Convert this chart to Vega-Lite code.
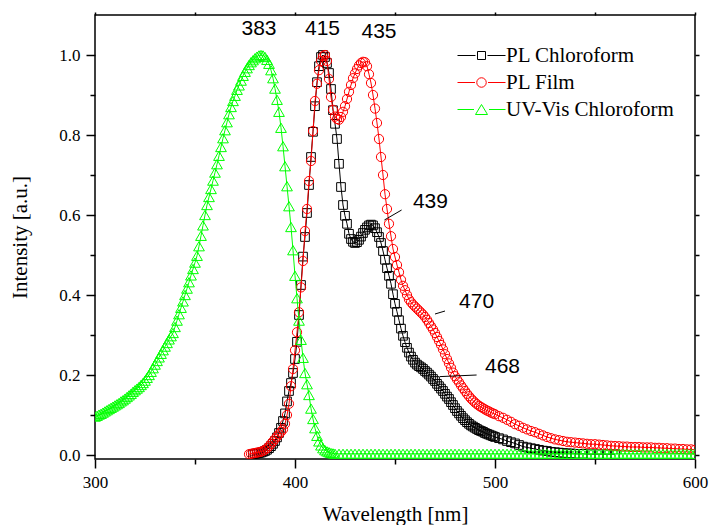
{
"$schema": "https://vega.github.io/schema/vega-lite/v6.json",
"width": 600, "height": 444,
"autosize": "none",
"padding": {"left": 95, "top": 15, "right": 14, "bottom": 66},
"config": {
  "view": {"stroke": "black", "strokeWidth": 1.5},
  "font": "Liberation Serif",
  "axis": {"domain": false, "grid": false, "labelFlush": false, "labelOverlap": false, "labelFont": "Liberation Serif", "labelFontSize": 17, "labelColor": "black", "titleFont": "Liberation Serif", "titleFontSize": 21, "titleFontWeight": "normal", "titleColor": "black", "tickColor": "black", "tickWidth": 1.5}
},
"datasets": {
"pc": [{"x":379,"y":0.002},{"x":380,"y":0.003},{"x":381,"y":0.004},{"x":382,"y":0.005},{"x":383,"y":0.006},{"x":384,"y":0.008},{"x":385,"y":0.010},{"x":386,"y":0.013},{"x":387,"y":0.017},{"x":388,"y":0.022},{"x":389,"y":0.028},{"x":390,"y":0.035},{"x":391,"y":0.044},{"x":392,"y":0.055},{"x":393,"y":0.068},{"x":394,"y":0.085},{"x":395,"y":0.104},{"x":396,"y":0.134},{"x":397,"y":0.160},{"x":398,"y":0.180},{"x":399,"y":0.205},{"x":400,"y":0.240},{"x":401,"y":0.283},{"x":402,"y":0.350},{"x":403,"y":0.425},{"x":404,"y":0.496},{"x":405,"y":0.545},{"x":406,"y":0.605},{"x":407,"y":0.675},{"x":408,"y":0.745},{"x":409,"y":0.808},{"x":410,"y":0.872},{"x":411,"y":0.932},{"x":412,"y":0.972},{"x":413,"y":0.995},{"x":414,"y":1.000},{"x":415,"y":0.995},{"x":416,"y":0.980},{"x":417,"y":0.955},{"x":418,"y":0.915},{"x":419,"y":0.862},{"x":420,"y":0.828},{"x":421,"y":0.790},{"x":422,"y":0.728},{"x":423,"y":0.670},{"x":424,"y":0.625},{"x":425,"y":0.598},{"x":426,"y":0.578},{"x":427,"y":0.553},{"x":428,"y":0.540},{"x":429,"y":0.533},{"x":430,"y":0.530},{"x":431,"y":0.532},{"x":432,"y":0.538},{"x":433,"y":0.546},{"x":434,"y":0.555},{"x":435,"y":0.563},{"x":436,"y":0.569},{"x":437,"y":0.574},{"x":438,"y":0.576},{"x":439,"y":0.574},{"x":440,"y":0.567},{"x":441,"y":0.557},{"x":442,"y":0.545},{"x":443,"y":0.530},{"x":444,"y":0.510},{"x":445,"y":0.488},{"x":446,"y":0.467},{"x":447,"y":0.448},{"x":448,"y":0.428},{"x":449,"y":0.402},{"x":450,"y":0.378},{"x":451,"y":0.358},{"x":452,"y":0.337},{"x":453,"y":0.316},{"x":454,"y":0.298},{"x":455,"y":0.282},{"x":456,"y":0.268},{"x":457,"y":0.256},{"x":458,"y":0.246},{"x":459,"y":0.238},{"x":460,"y":0.231},{"x":461,"y":0.226},{"x":462,"y":0.222},{"x":463,"y":0.219},{"x":464,"y":0.215},{"x":465,"y":0.210},{"x":466,"y":0.206},{"x":467,"y":0.201},{"x":468,"y":0.196},{"x":469,"y":0.190},{"x":470,"y":0.185},{"x":471,"y":0.178},{"x":472,"y":0.172},{"x":473,"y":0.166},{"x":474,"y":0.160},{"x":475,"y":0.153},{"x":476,"y":0.146},{"x":477,"y":0.140},{"x":478,"y":0.132},{"x":479,"y":0.125},{"x":480,"y":0.117},{"x":481,"y":0.110},{"x":482,"y":0.104},{"x":483,"y":0.098},{"x":484,"y":0.092},{"x":485,"y":0.087},{"x":486,"y":0.082},{"x":487,"y":0.078},{"x":488,"y":0.074},{"x":489,"y":0.071},{"x":490,"y":0.068},{"x":491,"y":0.065},{"x":492,"y":0.062},{"x":493,"y":0.060},{"x":494,"y":0.058},{"x":495,"y":0.055},{"x":496,"y":0.053},{"x":497,"y":0.051},{"x":498,"y":0.049},{"x":499,"y":0.047},{"x":500,"y":0.045},{"x":502,"y":0.042},{"x":504,"y":0.039},{"x":506,"y":0.035},{"x":508,"y":0.032},{"x":510,"y":0.029},{"x":512,"y":0.025},{"x":514,"y":0.021},{"x":516,"y":0.019},{"x":518,"y":0.017},{"x":520,"y":0.015},{"x":522,"y":0.013},{"x":524,"y":0.011},{"x":526,"y":0.010},{"x":528,"y":0.008},{"x":530,"y":0.007},{"x":532,"y":0.006},{"x":534,"y":0.005},{"x":536,"y":0.004},{"x":538,"y":0.004},{"x":540,"y":0.003},{"x":544,"y":0.003},{"x":548,"y":0.002},{"x":552,"y":0.002},{"x":556,"y":0.002},{"x":560,"y":0.002}],
"pf": [{"x":377,"y":0.002},{"x":378,"y":0.003},{"x":379,"y":0.004},{"x":380,"y":0.005},{"x":381,"y":0.006},{"x":382,"y":0.007},{"x":383,"y":0.008},{"x":384,"y":0.010},{"x":385,"y":0.013},{"x":386,"y":0.017},{"x":387,"y":0.022},{"x":388,"y":0.028},{"x":389,"y":0.034},{"x":390,"y":0.040},{"x":391,"y":0.046},{"x":392,"y":0.052},{"x":393,"y":0.058},{"x":394,"y":0.064},{"x":395,"y":0.078},{"x":396,"y":0.100},{"x":397,"y":0.128},{"x":398,"y":0.172},{"x":399,"y":0.215},{"x":400,"y":0.262},{"x":401,"y":0.307},{"x":402,"y":0.357},{"x":403,"y":0.419},{"x":404,"y":0.485},{"x":405,"y":0.560},{"x":406,"y":0.615},{"x":407,"y":0.685},{"x":408,"y":0.735},{"x":409,"y":0.810},{"x":410,"y":0.885},{"x":411,"y":0.928},{"x":412,"y":0.962},{"x":413,"y":0.985},{"x":414,"y":0.997},{"x":415,"y":1.000},{"x":416,"y":0.985},{"x":417,"y":0.940},{"x":418,"y":0.895},{"x":419,"y":0.863},{"x":420,"y":0.846},{"x":421,"y":0.840},{"x":422,"y":0.838},{"x":423,"y":0.845},{"x":424,"y":0.858},{"x":425,"y":0.872},{"x":426,"y":0.890},{"x":427,"y":0.908},{"x":428,"y":0.925},{"x":429,"y":0.942},{"x":430,"y":0.954},{"x":431,"y":0.965},{"x":432,"y":0.974},{"x":433,"y":0.980},{"x":434,"y":0.983},{"x":435,"y":0.982},{"x":436,"y":0.972},{"x":437,"y":0.952},{"x":438,"y":0.930},{"x":439,"y":0.900},{"x":440,"y":0.866},{"x":441,"y":0.830},{"x":442,"y":0.790},{"x":443,"y":0.745},{"x":444,"y":0.700},{"x":445,"y":0.652},{"x":446,"y":0.615},{"x":447,"y":0.578},{"x":448,"y":0.547},{"x":449,"y":0.515},{"x":450,"y":0.495},{"x":451,"y":0.475},{"x":452,"y":0.457},{"x":453,"y":0.438},{"x":454,"y":0.423},{"x":455,"y":0.412},{"x":456,"y":0.400},{"x":457,"y":0.389},{"x":458,"y":0.382},{"x":459,"y":0.376},{"x":460,"y":0.371},{"x":461,"y":0.366},{"x":462,"y":0.361},{"x":463,"y":0.356},{"x":464,"y":0.351},{"x":465,"y":0.345},{"x":466,"y":0.338},{"x":467,"y":0.330},{"x":468,"y":0.322},{"x":469,"y":0.314},{"x":470,"y":0.305},{"x":471,"y":0.295},{"x":472,"y":0.285},{"x":473,"y":0.275},{"x":474,"y":0.264},{"x":475,"y":0.252},{"x":476,"y":0.240},{"x":477,"y":0.229},{"x":478,"y":0.218},{"x":479,"y":0.206},{"x":480,"y":0.197},{"x":481,"y":0.189},{"x":482,"y":0.182},{"x":483,"y":0.174},{"x":484,"y":0.167},{"x":485,"y":0.160},{"x":486,"y":0.153},{"x":487,"y":0.147},{"x":488,"y":0.141},{"x":489,"y":0.136},{"x":490,"y":0.131},{"x":491,"y":0.127},{"x":492,"y":0.123},{"x":493,"y":0.120},{"x":494,"y":0.117},{"x":495,"y":0.114},{"x":496,"y":0.111},{"x":497,"y":0.109},{"x":498,"y":0.106},{"x":499,"y":0.104},{"x":500,"y":0.102},{"x":502,"y":0.097},{"x":504,"y":0.093},{"x":506,"y":0.088},{"x":508,"y":0.083},{"x":510,"y":0.077},{"x":512,"y":0.073},{"x":514,"y":0.068},{"x":516,"y":0.064},{"x":518,"y":0.060},{"x":520,"y":0.057},{"x":522,"y":0.053},{"x":524,"y":0.049},{"x":526,"y":0.045},{"x":528,"y":0.042},{"x":530,"y":0.039},{"x":532,"y":0.037},{"x":534,"y":0.035},{"x":536,"y":0.033},{"x":538,"y":0.032},{"x":540,"y":0.031},{"x":542,"y":0.030},{"x":544,"y":0.029},{"x":546,"y":0.028},{"x":548,"y":0.027},{"x":550,"y":0.027},{"x":552,"y":0.026},{"x":554,"y":0.025},{"x":556,"y":0.024},{"x":558,"y":0.023},{"x":560,"y":0.0225},{"x":562,"y":0.022},{"x":564,"y":0.021},{"x":566,"y":0.021},{"x":568,"y":0.020},{"x":570,"y":0.020},{"x":572,"y":0.020},{"x":574,"y":0.019},{"x":576,"y":0.019},{"x":578,"y":0.019},{"x":580,"y":0.018},{"x":582,"y":0.018},{"x":584,"y":0.017},{"x":586,"y":0.017},{"x":588,"y":0.016},{"x":590,"y":0.016},{"x":592,"y":0.015},{"x":594,"y":0.015},{"x":596,"y":0.014},{"x":598,"y":0.014},{"x":600,"y":0.013}],
"uv": [{"x":300,"y":0.096},{"x":301,"y":0.098},{"x":302,"y":0.101},{"x":303,"y":0.103},{"x":304,"y":0.106},{"x":305,"y":0.109},{"x":306,"y":0.112},{"x":307,"y":0.115},{"x":308,"y":0.118},{"x":309,"y":0.121},{"x":310,"y":0.124},{"x":311,"y":0.127},{"x":312,"y":0.130},{"x":313,"y":0.134},{"x":314,"y":0.137},{"x":315,"y":0.141},{"x":316,"y":0.145},{"x":317,"y":0.149},{"x":318,"y":0.153},{"x":319,"y":0.158},{"x":320,"y":0.162},{"x":321,"y":0.166},{"x":322,"y":0.170},{"x":323,"y":0.175},{"x":324,"y":0.180},{"x":325,"y":0.186},{"x":326,"y":0.193},{"x":327,"y":0.200},{"x":328,"y":0.208},{"x":329,"y":0.217},{"x":330,"y":0.226},{"x":331,"y":0.235},{"x":332,"y":0.244},{"x":333,"y":0.253},{"x":334,"y":0.262},{"x":335,"y":0.271},{"x":336,"y":0.280},{"x":337,"y":0.289},{"x":338,"y":0.297},{"x":339,"y":0.305},{"x":340,"y":0.320},{"x":341,"y":0.336},{"x":342,"y":0.352},{"x":343,"y":0.368},{"x":344,"y":0.384},{"x":345,"y":0.400},{"x":346,"y":0.416},{"x":347,"y":0.432},{"x":348,"y":0.449},{"x":349,"y":0.465},{"x":350,"y":0.481},{"x":351,"y":0.498},{"x":352,"y":0.522},{"x":353,"y":0.548},{"x":354,"y":0.574},{"x":355,"y":0.600},{"x":356,"y":0.625},{"x":357,"y":0.645},{"x":358,"y":0.665},{"x":359,"y":0.686},{"x":360,"y":0.706},{"x":361,"y":0.727},{"x":362,"y":0.748},{"x":363,"y":0.770},{"x":364,"y":0.792},{"x":365,"y":0.812},{"x":366,"y":0.832},{"x":367,"y":0.852},{"x":368,"y":0.870},{"x":369,"y":0.885},{"x":370,"y":0.898},{"x":371,"y":0.913},{"x":372,"y":0.924},{"x":373,"y":0.936},{"x":374,"y":0.948},{"x":375,"y":0.958},{"x":376,"y":0.967},{"x":377,"y":0.975},{"x":378,"y":0.982},{"x":379,"y":0.987},{"x":380,"y":0.992},{"x":381,"y":0.996},{"x":382,"y":0.999},{"x":383,"y":1.000},{"x":384,"y":0.999},{"x":385,"y":0.995},{"x":386,"y":0.988},{"x":387,"y":0.978},{"x":388,"y":0.962},{"x":389,"y":0.942},{"x":390,"y":0.916},{"x":391,"y":0.888},{"x":392,"y":0.858},{"x":393,"y":0.818},{"x":394,"y":0.772},{"x":395,"y":0.722},{"x":396,"y":0.672},{"x":397,"y":0.622},{"x":398,"y":0.570},{"x":399,"y":0.512},{"x":400,"y":0.448},{"x":401,"y":0.392},{"x":402,"y":0.336},{"x":403,"y":0.288},{"x":404,"y":0.243},{"x":405,"y":0.205},{"x":406,"y":0.177},{"x":407,"y":0.150},{"x":408,"y":0.116},{"x":409,"y":0.090},{"x":410,"y":0.067},{"x":411,"y":0.048},{"x":412,"y":0.034},{"x":413,"y":0.024},{"x":414,"y":0.017},{"x":415,"y":0.012},{"x":416,"y":0.009},{"x":417,"y":0.007},{"x":418,"y":0.005},{"x":419,"y":0.004},{"x":420,"y":0.003},{"x":422,"y":0.003},{"x":424,"y":0.003},{"x":426,"y":0.003},{"x":428,"y":0.003},{"x":430,"y":0.003},{"x":432,"y":0.003},{"x":434,"y":0.003},{"x":436,"y":0.003},{"x":438,"y":0.003},{"x":440,"y":0.003},{"x":442,"y":0.003},{"x":444,"y":0.003},{"x":446,"y":0.003},{"x":448,"y":0.003},{"x":450,"y":0.003},{"x":452,"y":0.003},{"x":454,"y":0.003},{"x":456,"y":0.003},{"x":458,"y":0.003},{"x":460,"y":0.003},{"x":462,"y":0.003},{"x":464,"y":0.003},{"x":466,"y":0.003},{"x":468,"y":0.003},{"x":470,"y":0.003},{"x":472,"y":0.003},{"x":474,"y":0.003},{"x":476,"y":0.003},{"x":478,"y":0.003},{"x":480,"y":0.003},{"x":482,"y":0.003},{"x":484,"y":0.003},{"x":486,"y":0.003},{"x":488,"y":0.003},{"x":490,"y":0.003},{"x":492,"y":0.003},{"x":494,"y":0.003},{"x":496,"y":0.003},{"x":498,"y":0.003},{"x":500,"y":0.003},{"x":502,"y":0.003},{"x":504,"y":0.003},{"x":506,"y":0.003},{"x":508,"y":0.003},{"x":510,"y":0.003},{"x":512,"y":0.003},{"x":514,"y":0.003},{"x":516,"y":0.003},{"x":518,"y":0.003},{"x":520,"y":0.003},{"x":522,"y":0.003},{"x":524,"y":0.003},{"x":526,"y":0.003},{"x":528,"y":0.003},{"x":530,"y":0.003},{"x":532,"y":0.003},{"x":534,"y":0.003},{"x":536,"y":0.003},{"x":538,"y":0.003},{"x":540,"y":0.003},{"x":542,"y":0.003},{"x":544,"y":0.003},{"x":546,"y":0.003},{"x":548,"y":0.003},{"x":550,"y":0.003},{"x":552,"y":0.003},{"x":554,"y":0.003},{"x":556,"y":0.003},{"x":558,"y":0.003},{"x":560,"y":0.003},{"x":562,"y":0.003},{"x":564,"y":0.003},{"x":566,"y":0.003},{"x":568,"y":0.003},{"x":570,"y":0.003},{"x":572,"y":0.003},{"x":574,"y":0.003},{"x":576,"y":0.003},{"x":578,"y":0.003},{"x":580,"y":0.003},{"x":582,"y":0.003},{"x":584,"y":0.003},{"x":586,"y":0.003},{"x":588,"y":0.003},{"x":590,"y":0.003},{"x":592,"y":0.003},{"x":594,"y":0.003},{"x":596,"y":0.003},{"x":598,"y":0.003},{"x":600,"y":0.003}],
"ann": [{"x":382,"y":1.064,"t":"383"},{"x":413.75,"y":1.064,"t":"415"},{"x":442,"y":1.057,"t":"435"},{"x":467.7,"y":0.633,"t":"439"},{"x":490.8,"y":0.382,"t":"470"},{"x":503.75,"y":0.219,"t":"468"}],
"lead": [{"x":444.7,"x2":453.3,"y":0.5875,"y2":0.6125},{"x":470,"x2":475,"y":0.3525,"y2":0.36},{"x":472.5,"x2":490.8,"y":0.196,"y2":0.2}]
},
"resolve": {"axis": {"x": "independent", "y": "independent"}},
"layer": [
 {"data": {"name": "pc"}, "mark": {"type": "line", "strokeWidth": 1, "clip": true},
  "encoding": {
   "x": {"field": "x", "type": "quantitative", "scale": {"domain": [300, 600], "nice": false, "zero": false},
         "axis": {"orient": "bottom", "values": [300, 400, 500, 600], "tickSize": 9, "labelPadding": 6, "title": "Wavelength [nm]", "titlePadding": 13}},
   "y": {"field": "y", "type": "quantitative", "scale": {"domain": [-0.01, 1.1], "nice": false, "zero": false},
         "axis": {"orient": "left", "values": [0, 0.2, 0.4, 0.6, 0.8, 1.0], "format": ".1f", "tickSize": 9, "labelPadding": 6, "title": "Intensity [a.u.]", "titlePadding": 28}},
   "color": {"datum": "PL Chloroform", "type": "nominal",
     "scale": {"domain": ["PL Chloroform", "PL Film", "UV-Vis Chloroform"], "range": ["#000000", "#ff0000", "#00ff00"]}}
  }},
 {"data": {"name": "pc"}, "mark": {"type": "point", "shape": "square", "filled": false, "size": 75, "strokeWidth": 1, "opacity": 1, "clip": true},
  "encoding": {
   "x": {"field": "x", "type": "quantitative", "axis": {"orient": "bottom", "values": [350, 450, 550], "tickSize": 5, "labels": false, "title": null}},
   "y": {"field": "y", "type": "quantitative", "axis": {"orient": "left", "values": [0.1, 0.3, 0.5, 0.7, 0.9], "tickSize": 5, "labels": false, "title": null}},
   "color": {"datum": "PL Chloroform", "type": "nominal"}
  }},
 {"data": {"name": "pf"}, "mark": {"type": "line", "strokeWidth": 1, "clip": true},
  "encoding": {
   "x": {"field": "x", "type": "quantitative", "axis": {"orient": "top", "values": [300, 350, 400, 450, 500, 550, 600], "tickSize": 3, "labels": false, "title": null}},
   "y": {"field": "y", "type": "quantitative", "axis": {"orient": "right", "values": [0, 0.1, 0.2, 0.3, 0.4, 0.5, 0.6, 0.7, 0.8, 0.9, 1.0], "tickSize": 4, "labels": false, "title": null}},
   "color": {"datum": "PL Film", "type": "nominal"}
  }},
 {"data": {"name": "pf"}, "mark": {"type": "point", "shape": "circle", "filled": false, "size": 85, "strokeWidth": 1, "opacity": 1, "clip": true},
  "encoding": {
   "x": {"field": "x", "type": "quantitative", "axis": null},
   "y": {"field": "y", "type": "quantitative", "axis": null},
   "color": {"datum": "PL Film", "type": "nominal"}
  }},
 {"data": {"name": "uv"}, "mark": {"type": "line", "strokeWidth": 1, "clip": true},
  "encoding": {
   "x": {"field": "x", "type": "quantitative", "axis": null},
   "y": {"field": "y", "type": "quantitative", "axis": null},
   "color": {"datum": "UV-Vis Chloroform", "type": "nominal"}
  }},
 {"data": {"name": "uv"}, "mark": {"type": "point", "shape": "triangle-up", "filled": false, "size": 115, "strokeWidth": 1, "opacity": 1, "clip": true},
  "encoding": {
   "x": {"field": "x", "type": "quantitative", "axis": null},
   "y": {"field": "y", "type": "quantitative", "axis": null},
   "color": {"datum": "UV-Vis Chloroform", "type": "nominal"}
  }},
 {"data": {"values": []}, "mark": {"type": "point", "filled": false, "strokeWidth": 1, "opacity": 1},
  "encoding": {
   "color": {"field": "s", "type": "nominal",
     "legend": {"orient": "none", "legendX": 376, "legendY": 30, "title": null, "labelFont": "Liberation Serif", "labelFontSize": 21, "labelColor": "black", "labelLimit": 400, "symbolSize": 100, "symbolStrokeWidth": 1, "labelOffset": 14, "rowPadding": 5}},
   "shape": {"field": "s", "type": "nominal",
     "scale": {"domain": ["PL Chloroform", "PL Film", "UV-Vis Chloroform"],
               "range": ["M-4.8,0H-1.2M1.2,0H4.8M-0.8,-0.8H0.8V0.8H-0.8Z", "M-4.8,0H-1.3M1.3,0H4.8M0.95,0A0.95,0.95,0,1,1,-0.95,0A0.95,0.95,0,1,1,0.95,0Z", "M-4.8,0H-1.5M1.5,0H4.8M0,-1L1.2,1H-1.2Z"]},
     "legend": {"orient": "none", "legendX": 376, "legendY": 30, "title": null, "labelFont": "Liberation Serif", "labelFontSize": 21, "labelColor": "black", "labelLimit": 400, "symbolSize": 100, "symbolStrokeWidth": 1, "labelOffset": 14, "rowPadding": 5}}
  }},
 {"data": {"name": "ann"}, "mark": {"type": "text", "font": "Liberation Sans", "fontSize": 21, "color": "black", "align": "center", "baseline": "middle"},
  "encoding": {
   "x": {"field": "x", "type": "quantitative", "axis": null},
   "y": {"field": "y", "type": "quantitative", "axis": null},
   "text": {"field": "t", "type": "nominal"}
  }},
 {"data": {"name": "lead"}, "mark": {"type": "rule", "color": "black", "strokeWidth": 1},
  "encoding": {
   "x": {"field": "x", "type": "quantitative", "axis": null},
   "x2": {"field": "x2"},
   "y": {"field": "y", "type": "quantitative", "axis": null},
   "y2": {"field": "y2"}
  }}
]
}
